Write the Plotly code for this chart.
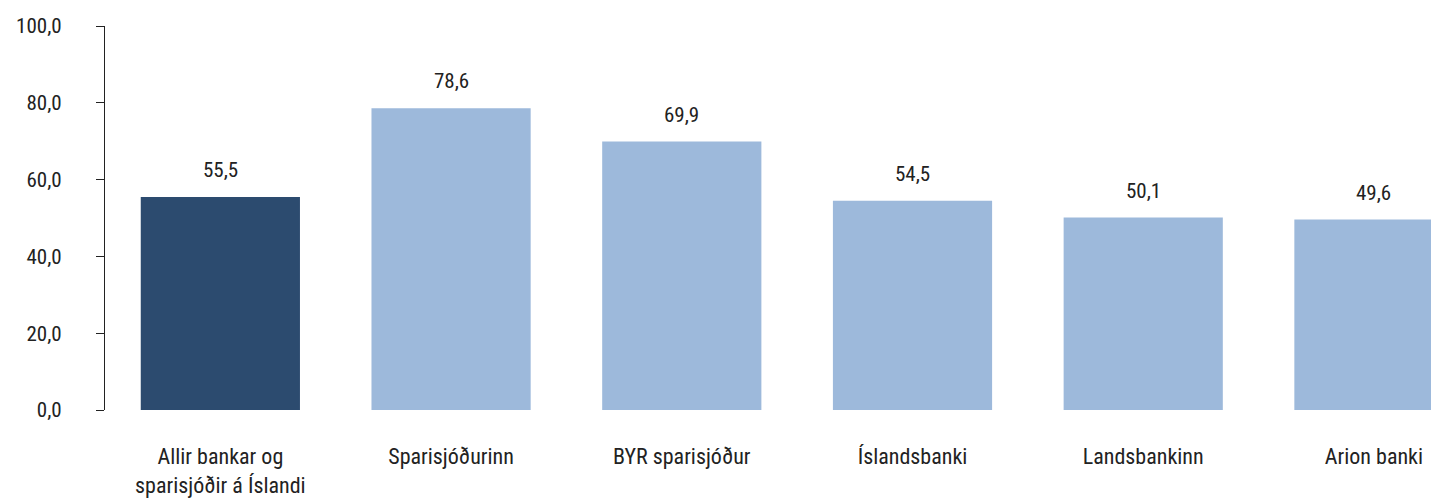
import plotly.graph_objects as go

categories = ["Allir bankar og<br>sparisjóðir á Íslandi", "Sparisjóðurinn", "BYR sparisjóður",
              "Íslandsbanki", "Landsbankinn", "Arion banki"]
values = [55.5, 78.6, 69.9, 54.5, 50.1, 49.6]
value_labels = ["55,5", "78,6", "69,9", "54,5", "50,1", "49,6"]
bar_colors = ["#2C4B6F", "#9DB9DB", "#9DB9DB", "#9DB9DB", "#9DB9DB", "#9DB9DB"]
y_ticks = [0, 20, 40, 60, 80, 100]
y_tick_labels = ["0,0", "20,0", "40,0", "60,0", "80,0", "100,0"]

FONT = "Roboto Condensed, DejaVu Sans Condensed, Liberation Sans, sans-serif"

fig = go.Figure()
fig.add_trace(go.Bar(
    x=list(range(len(categories))), y=values,
    marker=dict(color=bar_colors, line=dict(width=0)),
    hoverinfo="skip",
))

for i, (v, t) in enumerate(zip(values, value_labels)):
    fig.add_annotation(x=i, y=v, text=t, showarrow=False, yshift=27,
                       font=dict(family=FONT, size=21, color="#222222"))

fig.update_layout(
    width=1439, height=501,
    margin=dict(l=97, r=8, t=18, b=99),
    paper_bgcolor="white", plot_bgcolor="white",
    bargap=0.31, showlegend=False,
    font=dict(family=FONT, size=21, color="#222222"),
    xaxis=dict(
        range=[-0.5, 5.282],
        tickmode="array", tickvals=list(range(len(categories))), ticktext=categories,
        showline=False, ticks="", showgrid=False, zeroline=False,
        ticklabelstandoff=31, automargin=False,
        tickfont=dict(size=22),
    ),
    yaxis=dict(
        range=[0, 100],
        tickmode="array", tickvals=y_ticks, ticktext=y_tick_labels,
        showline=True, linecolor="#222", linewidth=1.2,
        ticks="outside", ticklen=8, tickcolor="#222", tickwidth=1.2,
        showgrid=False, zeroline=False,
        ticklabelstandoff=30, automargin=False,
    ),
)

fig.write_html("out.html")
